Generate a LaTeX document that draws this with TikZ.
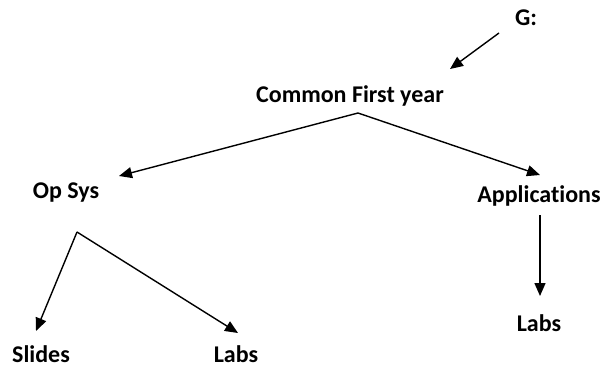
\documentclass[tikz,border=0pt]{standalone}
\usepackage{fontspec}
\setmainfont{Carlito}[Ligatures={NoCommon}]
\usetikzlibrary{arrows.meta}
\begin{document}
\begin{tikzpicture}[x=1pt,y=-1pt,
  lbl/.style={font=\fontsize{24}{28}\selectfont\bfseries, inner sep=0pt, anchor=center},
  conn/.style={line width=1.4pt, -{Triangle[length=13pt,width=11pt]}}]
\useasboundingbox (0,0) rectangle (603,368);
\node[lbl] (g) at (526,18) {G:};
\node[lbl] (cfy) at (350,96) {Common First year};
\node[lbl] (os) at (66,193) {Op Sys};
\node[lbl] (app) at (539,196) {Applications};
\node[lbl] (labsr) at (539,323) {Labs};
\node[lbl] (slides) at (41,354) {Slides};
\node[lbl] (labsl) at (236,354) {Labs};
\coordinate (gs) at (499,33);
\coordinate (ge) at (450,69);
\coordinate (ap1) at (358,113);
\coordinate (os1) at (119,176);
\coordinate (app1) at (540,175);
\coordinate (ap2) at (77,232);
\coordinate (sl1) at (36,331);
\coordinate (lb1) at (238,333);
\coordinate (ap3) at (540,215);
\coordinate (lr1) at (540,296);
\draw[conn] (gs) -- (ge);
\draw[conn] (ap1) -- (os1);
\draw[conn] (ap1) -- (app1);
\draw[conn] (ap2) -- (sl1);
\draw[conn] (ap2) -- (lb1);
\draw[conn] (ap3) -- (lr1);
\end{tikzpicture}
\end{document}
